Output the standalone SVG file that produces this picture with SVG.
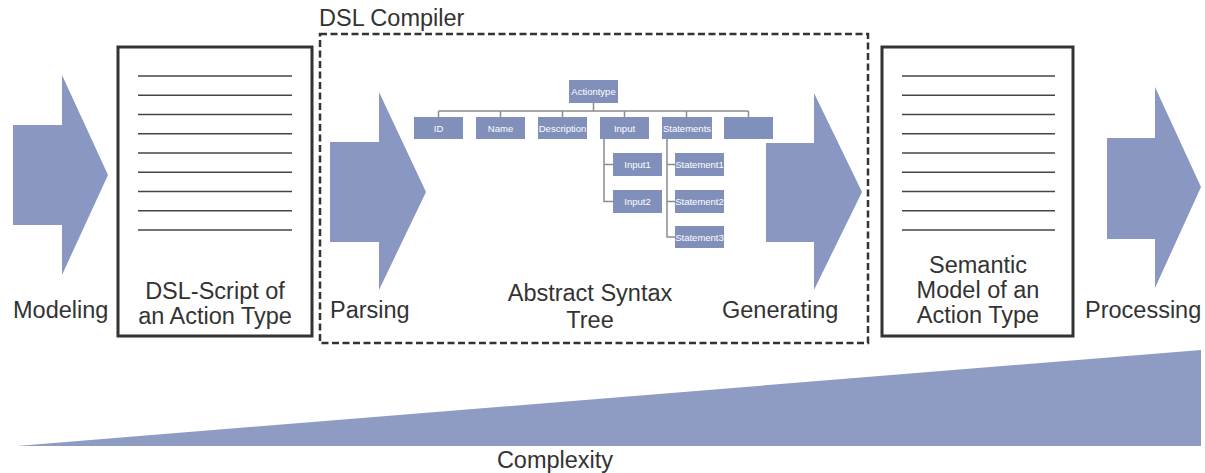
<svg xmlns="http://www.w3.org/2000/svg" width="1205" height="473" viewBox="0 0 1205 473">
  <style>
    .lbl { font-family: "Liberation Sans", Arial, sans-serif; font-size: 23.5px; fill: #333; }
    .mid { text-anchor: middle; }
    .arrow { fill: #8a97c2; }
    .doc { fill: #fff; stroke: #333; stroke-width: 3; }
    .rule { stroke: #444; stroke-width: 1.6; }
    .tbox { fill: #8190ba; }
    .ttxt { font-family: "Liberation Sans", Arial, sans-serif; font-size: 9.5px; fill: #fff; text-anchor: middle; }
    .tline { stroke: #8c8c8c; stroke-width: 1.5; fill: none; }
  </style>

  <rect width="1205" height="473" fill="#fff"/>

  <!-- complexity wedge -->
  <g id="complexity">
    <polygon points="17,446 1201,350 1201,446" fill="#8e9bc3"/>
    <text class="lbl mid" x="555" y="468">Complexity</text>
  </g>

  <!-- process step arrows -->
  <g id="modeling">
    <polygon class="arrow" points="13,125 62,125 62,75 108,175 62,275 62,225 13,225"/>
    <text class="lbl" x="13" y="318">Modeling</text>
  </g>
  <g id="parsing">
    <polygon class="arrow" points="330,142 379,142 379,92 426,192 379,290 379,242 330,242"/>
    <text class="lbl" x="330" y="318">Parsing</text>
  </g>
  <g id="generating">
    <polygon class="arrow" points="766,143 814,143 814,93 862,192 814,290 814,242 766,242"/>
    <text class="lbl" x="722" y="318">Generating</text>
  </g>
  <g id="processing">
    <polygon class="arrow" points="1107,138 1155,138 1155,87 1201,187 1155,288 1155,239 1107,239"/>
    <text class="lbl" x="1085" y="318">Processing</text>
  </g>

  <!-- script document -->
  <g id="dsl-script">
    <rect class="doc" x="118" y="47" width="194" height="289"/>
    <g class="rule">
      <line x1="138" y1="76" x2="292" y2="76"/>
      <line x1="138" y1="95.3" x2="292" y2="95.3"/>
      <line x1="138" y1="114.5" x2="292" y2="114.5"/>
      <line x1="138" y1="133.8" x2="292" y2="133.8"/>
      <line x1="138" y1="153" x2="292" y2="153"/>
      <line x1="138" y1="172.3" x2="292" y2="172.3"/>
      <line x1="138" y1="191.5" x2="292" y2="191.5"/>
      <line x1="138" y1="210.8" x2="292" y2="210.8"/>
      <line x1="138" y1="230" x2="292" y2="230"/>
    </g>
    <text class="lbl mid" x="215" y="299">DSL-Script of</text>
    <text class="lbl mid" x="215" y="324">an Action Type</text>
  </g>

  <!-- semantic model document -->
  <g id="semantic-model">
    <rect class="doc" x="882" y="47" width="191" height="289"/>
    <g class="rule">
      <line x1="902" y1="76" x2="1055" y2="76"/>
      <line x1="902" y1="95.3" x2="1055" y2="95.3"/>
      <line x1="902" y1="114.5" x2="1055" y2="114.5"/>
      <line x1="902" y1="133.8" x2="1055" y2="133.8"/>
      <line x1="902" y1="153" x2="1055" y2="153"/>
      <line x1="902" y1="172.3" x2="1055" y2="172.3"/>
      <line x1="902" y1="191.5" x2="1055" y2="191.5"/>
      <line x1="902" y1="210.8" x2="1055" y2="210.8"/>
      <line x1="902" y1="230" x2="1055" y2="230"/>
    </g>
    <text class="lbl mid" x="978" y="273">Semantic</text>
    <text class="lbl mid" x="978" y="298">Model of an</text>
    <text class="lbl mid" x="978" y="323">Action Type</text>
  </g>

  <!-- compiler frame -->
  <g id="dsl-compiler">
    <rect x="320" y="34" width="548" height="309" fill="none" stroke="#333" stroke-width="2.5" stroke-dasharray="7,3.5"/>
    <text class="lbl" x="319" y="26">DSL Compiler</text>
    <text class="lbl mid" x="590" y="301">Abstract Syntax</text>
    <text class="lbl mid" x="590" y="328">Tree</text>
  </g>

  <!-- syntax tree connectors -->
  <g id="tree-connectors" class="tline">
    <path d="M593.5,103 V111"/>
    <path d="M438.5,111 H748.5"/>
    <path d="M438.5,111 V117 M500.5,111 V117 M562.5,111 V117 M624.5,111 V117 M686.5,111 V117 M748.5,111 V117"/>
    <path d="M604,139 V201.5 H613 M604,164.5 H613"/>
    <path d="M667,139 V237 H675 M667,164.5 H675 M667,201.5 H675"/>
  </g>

  <!-- syntax tree nodes -->
  <g id="node-actiontype"><rect class="tbox" x="569" y="80" width="49" height="23"/><text class="ttxt" x="593.5" y="95">Actiontype</text></g>
  <g id="node-id"><rect class="tbox" x="414" y="117" width="49" height="22"/><text class="ttxt" x="438.5" y="131.5">ID</text></g>
  <g id="node-name"><rect class="tbox" x="476" y="117" width="49" height="22"/><text class="ttxt" x="500.5" y="131.5">Name</text></g>
  <g id="node-description"><rect class="tbox" x="538" y="117" width="49" height="22"/><text class="ttxt" x="562.5" y="131.5">Description</text></g>
  <g id="node-input"><rect class="tbox" x="600" y="117" width="49" height="22"/><text class="ttxt" x="624.5" y="131.5">Input</text></g>
  <g id="node-statements"><rect class="tbox" x="662" y="117" width="50" height="22"/><text class="ttxt" x="687" y="131.5">Statements</text></g>
  <g id="node-empty"><rect class="tbox" x="724" y="117" width="49" height="22"/></g>
  <g id="node-input1"><rect class="tbox" x="613" y="153" width="49" height="23"/><text class="ttxt" x="637.5" y="168">Input1</text></g>
  <g id="node-input2"><rect class="tbox" x="613" y="190" width="49" height="23"/><text class="ttxt" x="637.5" y="205">Input2</text></g>
  <g id="node-statement1"><rect class="tbox" x="675" y="153" width="49" height="23"/><text class="ttxt" x="699.5" y="168">Statement1</text></g>
  <g id="node-statement2"><rect class="tbox" x="675" y="190" width="49" height="23"/><text class="ttxt" x="699.5" y="205">Statement2</text></g>
  <g id="node-statement3"><rect class="tbox" x="675" y="226" width="49" height="22"/><text class="ttxt" x="699.5" y="240.5">Statement3</text></g>
</svg>
